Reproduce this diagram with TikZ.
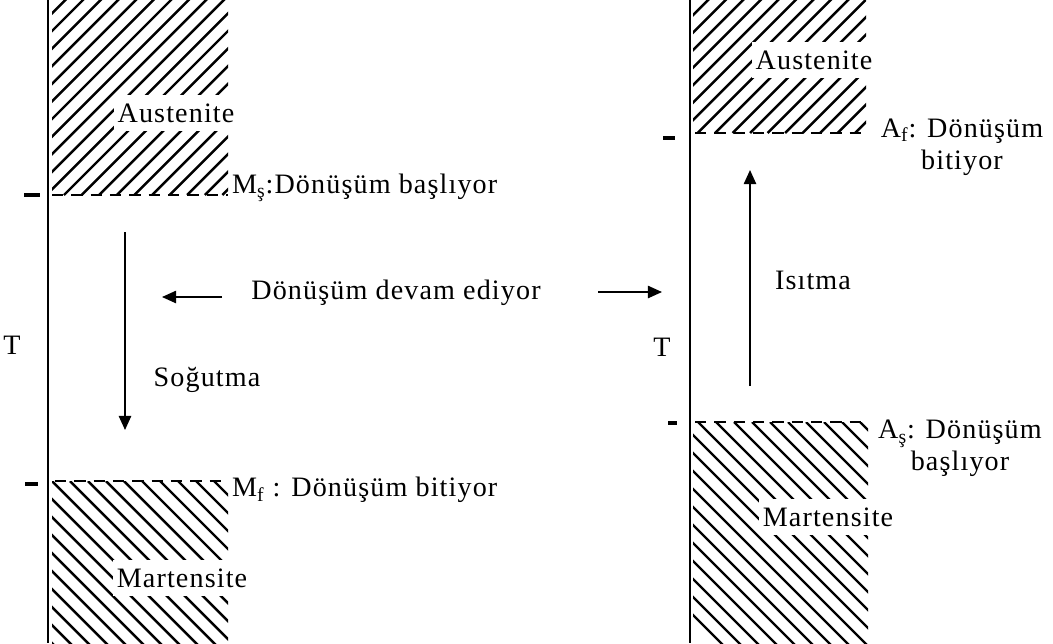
\documentclass[tikz,border=0pt]{standalone}
\usepackage{fontspec}
\setmainfont{Liberation Serif}[LetterSpace=4]
\usetikzlibrary{arrows.meta,positioning}

\begin{document}
\begin{tikzpicture}[x=0.02cm,y=-0.02cm,>={Triangle[length=8pt,width=7pt]},
  txt/.style={font=\fontsize{16}{18}\selectfont,inner sep=1pt},
  phase/.style={txt,fill=white,inner xsep=2pt,inner ysep=5pt},
  axis/.style={line width=1.1pt},
  tick/.style={line width=1.8pt},
  hatch/.style={line width=1.4pt},
  edge/.style={line width=1.5pt,dash pattern=on 6.5pt off 4.5pt},
  flow/.style={->,line width=0.9pt}]
  \useasboundingbox (0,0) rectangle (1053,643);
  % axes
  \draw[axis] (48,0) -- (48,643);
  \draw[axis] (690,0) -- (690,643);
  \draw[tick] (24,195) -- (40,195);
  \draw[tick] (25,484) -- (38,484);
  \draw[tick] (663,138) -- (675,138);
  \draw[tick] (668,423) -- (677,423);
  % hatched regions
  \begin{scope}\clip (52,0) rectangle (228,195);
    \foreach \x in {-200,-182.4,...,240}{\draw[hatch] (\x,195) -- ++(220,-220);}
  \end{scope}
  \begin{scope}\clip (52,481) rectangle (228,643);
    \foreach \x in {-200,-182,...,240}{\draw[hatch] (\x,481) -- ++(200,200);}
  \end{scope}
  \begin{scope}\clip (693,0) rectangle (866,133);
    \foreach \x in {540,557.5,...,880}{\draw[hatch] (\x,133) -- ++(160,-160);}
  \end{scope}
  \begin{scope}\clip (693,422) rectangle (868,643);
    \foreach \x in {500,518,...,880}{\draw[hatch] (\x,422) -- ++(240,240);}
  \end{scope}
  \draw[edge] (52,195) -- (228,195);
  \draw[edge] (55,481) -- (228,481);
  \draw[edge] (695,133) -- (866,133);
  \draw[edge] (695,422) -- (868,422);
  % phase names
  \node[phase] (aus1) at (176,113) {Austenite};
  \node[phase] (mar1) at (182,578) {Martensite};
  \node[phase] (aus2) at (814,60) {Austenite};
  \node[phase] (mar2) at (828,517) {Martensite};
  % transformation temperatures
  \node[txt,anchor=west] (ms) at (230,188) {M\textsubscript{ş}:Dönüşüm başlıyor};
  \node[txt,anchor=west] (mf) at (230,490) {M\textsubscript{f} : Dönüşüm bitiyor};
  \node[txt,align=center] (af) at (962,147) {A\textsubscript{f}: Dönüşüm\\bitiyor};
  \node[txt,align=center] (as) at (960,448) {A\textsubscript{ş}: Dönüşüm\\başlıyor};
  \node[txt] (t1) at (12,345) {T};
  \node[txt] (t2) at (662,347) {T};
  % arrows
  \node[txt] (devam) at (396,293) {Dönüşüm devam ediyor};
  \node[txt] (sog) at (207,380) {Soğutma};
  \node[txt] (isi) at (813,280) {Isıtma};
  \coordinate (c1) at (125,232); \coordinate (c2) at (125,430);
  \coordinate (h1) at (750,386); \coordinate (h2) at (750,170);
  \coordinate (l1) at (222,297); \coordinate (l2) at (162,297);
  \coordinate (r1) at (598,292); \coordinate (r2) at (662,292);
  \draw[flow] (c1) -- (c2);
  \draw[flow] (h1) -- (h2);
  \draw[flow] (l1) -- (l2);
  \draw[flow] (r1) -- (r2);
\end{tikzpicture}
\end{document}
